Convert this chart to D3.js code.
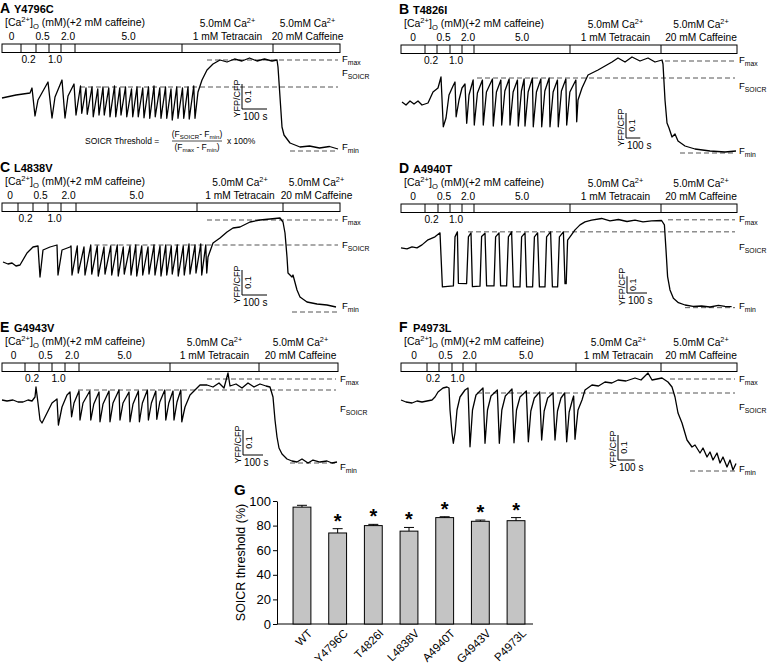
<!DOCTYPE html>
<html>
<head>
<meta charset="utf-8">
<script src="https://cdn.jsdelivr.net/npm/d3@7"></script>
<style>
  body { margin: 0; background: #fff; }
  svg text { font-family: "Liberation Sans", Arial, Helvetica, sans-serif; fill: #000; }
</style>
</head>
<body>
<svg id="fig"></svg>
<script>
// ---------- data ----------
// times in s, ratio values are YFP/CFP above F_min
const concLabels = ["0", "0.2", "0.5", "1.0", "2.0", "5.0"];
const scaleTime = 100, scaleRatio = 0.1;

// segment boundaries (s): 0,0.2,0.5,1.0,2.0,5.0 mM, tetracaine, caffeine, end
const segA = [0, 76, 136, 188, 236, 292, 720, 1084, 1352];
const segB = [0, 168, 252, 343, 427, 511, 1183, 1820, 2352];
const segC = [0, 64, 124, 184, 236, 296, 780, 1124, 1352];
const segD = [0, 120, 185, 245, 305, 365, 845, 1300, 1680];
const segE = [0, 115, 185, 250, 315, 385, 840, 1285, 1680];
const segF = [0, 156, 228, 306, 372, 450, 1050, 1560, 2016];

// [Fmax, FSOICR, Fmin] levels and the time each dashed line starts
const levelsA = [0.352, 0.244, -0.012], levelStartA = [820, 312, 1152];
const levelsB = [0.364, 0.296, -0.004], levelStartB = [1848, 532, 1953];
const levelsC = [0.348, 0.248, -0.020], levelStartC = [820, 370, 1160];
const levelsD = [0.522, 0.450, -0.004], levelStartD = [1335, 335, 1420];
const levelsE = [0.332, 0.288, -0.004], levelStartE = [1025, 380, 1440];
const levelsF = [0.368, 0.312, 0.000], levelStartF = [1614, 456, 1734];

const traceA = [[0,0.200],[56,0.212],[112,0.220],[120,0.240],[132,0.128],[144,0.192],[184,0.264],
  [200,0.120],[212,0.204],[240,0.272],[252,0.120],[264,0.208],[288,0.256],
  [296,0.132],[314,0.248],[319,0.139],[336,0.240],[341,0.135],[360,0.244],[365,0.125],[383,0.236],
  [388,0.132],[404,0.244],[409,0.132],[427,0.240],[432,0.125],[450,0.248],[455,0.125],[471,0.240],
  [476,0.132],[494,0.244],[499,0.125],[518,0.236],[523,0.125],[540,0.244],[545,0.125],[563,0.240],
  [568,0.121],[586,0.244],[591,0.119],[608,0.248],[613,0.125],[631,0.240],[636,0.119],[654,0.244],
  [659,0.119],[676,0.236],[681,0.112],[699,0.244],[704,0.119],[722,0.240],[727,0.119],[744,0.244],
  [749,0.116],[767,0.248],[772,0.119],
  [784,0.224],[800,0.272],[820,0.312],[844,0.336],[872,0.352],[900,0.344],[930,0.356],[960,0.348],
  [990,0.360],[1020,0.348],[1050,0.356],[1080,0.348],[1100,0.352],[1104,0.324],[1112,0.204],
  [1120,0.084],[1128,0.052],[1152,0.020],[1192,0.004],[1230,0.008],[1270,0],[1310,0.006],[1344,-0.004]];

const traceB = [[7,0.200],[35,0.188],[63,0.204],[91,0.192],[119,0.204],[147,0.188],[189,0.196],
  [224,0.240],[259,0.256],[280,0.300],
  [296,0.101],[315,0.136],[336,0.228],[364,0.264],[378,0.280],
  [386,0.141],[406,0.208],[427,0.256],[448,0.272],
  [460,0.115],[476,0.228],[505,0.288],
  [513,0.108],[535,0.236],[570,0.288],[576,0.108],[598,0.240],[640,0.292],
  [646,0.104],[668,0.240],[699,0.288],[705,0.108],[727,0.244],[757,0.292],
  [763,0.108],[785,0.240],[815,0.288],[821,0.104],[843,0.244],[862,0.292],
  [868,0.104],[890,0.240],[920,0.296],[926,0.101],[948,0.240],[979,0.292],
  [985,0.101],[1007,0.244],[1037,0.296],[1043,0.101],[1065,0.240],[1095,0.288],
  [1101,0.101],[1123,0.244],[1154,0.292],[1160,0.108],[1182,0.240],[1224,0.288],
  [1230,0.121],[1239,0.208],[1267,0.256],[1309,0.308],[1379,0.328],[1428,0.344],[1477,0.360],
  [1519,0.376],[1568,0.360],[1617,0.380],[1673,0.364],[1729,0.376],[1778,0.360],[1827,0.368],
  [1834,0.352],[1848,0.208],[1862,0.116],[1876,0.096],[1897,0.060],[1918,0.072],[1939,0.044],
  [1988,0.024],[2058,0.012],[2163,0.004],[2268,0],[2345,0.004]];

const traceC = [[4,0.180],[24,0.172],[40,0.176],[56,0.164],[72,0.168],[100,0.216],[124,0.240],[144,0.244],
  [152,0.120],[164,0.228],[192,0.240],[220,0.248],[224,0.128],[240,0.228],[272,0.240],[276,0.244],
  [280,0.128],[301,0.244],[305,0.136],[328,0.240],[332,0.128],[355,0.248],[359,0.132],[381,0.244],
  [385,0.124],[408,0.240],[412,0.132],[435,0.244],[439,0.128],[461,0.248],[465,0.124],[485,0.240],
  [489,0.132],[512,0.244],[516,0.128],[535,0.248],[539,0.124],[559,0.244],[563,0.128],[584,0.240],
  [588,0.132],[608,0.248],[612,0.128],[632,0.244],[636,0.124],[655,0.248],[659,0.128],[677,0.244],
  [681,0.132],[701,0.248],[705,0.124],[725,0.244],[729,0.128],[748,0.252],[752,0.132],[772,0.248],
  [776,0.136],[795,0.252],[799,0.128],[815,0.248],[819,0.136],
  [824,0.200],[844,0.256],[872,0.276],[900,0.300],[924,0.316],[952,0.320],[992,0.340],[1032,0.348],
  [1072,0.352],[1112,0.356],[1124,0.340],[1132,0.296],[1140,0.200],[1144,0.136],[1160,0.120],
  [1164,0.128],[1180,0.068],[1192,0.040],[1220,0.020],[1260,0.012],[1300,0.008],[1336,0]];

const traceD = [[0,0.354],[30,0.348],[55,0.360],[80,0.354],[105,0.372],[135,0.402],[170,0.420],[195,0.444],
  [207,0.120],[262,0.126],[270,0.420],[282,0.450],[287,0.142],[328,0.140],[337,0.420],[350,0.444],
  [357,0.122],[395,0.125],[403,0.422],[420,0.442],[428,0.126],[465,0.126],[473,0.420],[490,0.444],
  [498,0.126],[528,0.126],[537,0.420],[553,0.450],[562,0.120],[595,0.120],[603,0.420],[620,0.444],
  [628,0.120],[658,0.120],[667,0.420],[683,0.444],[692,0.120],[720,0.120],[728,0.420],[748,0.450],
  [757,0.120],[783,0.120],[792,0.420],[812,0.450],[820,0.140],[826,0.140],[833,0.400],
  [845,0.420],[870,0.462],[895,0.492],[920,0.510],[953,0.520],[1003,0.530],[1045,0.516],[1087,0.524],
  [1130,0.512],[1170,0.520],[1210,0.510],[1253,0.516],[1303,0.518],[1317,0.492],[1325,0.342],
  [1333,0.182],[1345,0.102],[1362,0.052],[1387,0.026],[1420,0.012],[1460,0.004],[1503,0.006],
  [1545,0],[1587,0.010],[1620,0.004],[1653,0.002]];

const traceE = [[0,0.248],[25,0.244],[55,0.248],[80,0.240],[105,0.240],[130,0.248],[150,0.244],[165,0.260],
  [170,0.300],[180,0.236],[190,0.168],[200,0.156],[225,0.196],[250,0.236],[275,0.252],
  [282,0.148],[300,0.220],[325,0.268],[340,0.280],[348,0.181],[360,0.236],[385,0.284],
  [390,0.168],[405,0.236],[439,0.284],[444,0.168],[459,0.232],[485,0.280],
  [490,0.161],[505,0.232],[535,0.284],[540,0.161],[555,0.236],[585,0.288],
  [590,0.168],[605,0.236],[635,0.280],[640,0.161],[655,0.232],[682,0.284],
  [687,0.161],[702,0.236],[727,0.288],[732,0.168],[747,0.236],[769,0.284],
  [774,0.171],[789,0.240],[814,0.288],[819,0.168],[834,0.236],[855,0.284],
  [860,0.168],[875,0.240],[894,0.288],[899,0.161],
  [915,0.220],[940,0.268],[965,0.288],[990,0.308],[1025,0.308],[1055,0.300],[1085,0.316],[1110,0.296],
  [1130,0.356],[1140,0.304],[1170,0.312],[1200,0.296],[1230,0.316],[1260,0.300],[1290,0.312],
  [1320,0.304],[1340,0.300],[1355,0.260],[1365,0.168],[1375,0.100],[1385,0.056],[1400,0.032],
  [1425,0.012],[1450,0.004],[1475,0],[1500,0.012],[1530,-0.004],[1555,0.008],[1590,0],[1625,0.004],
  [1650,-0.004],[1675,0]];

const traceF = [[0,0.284],[30,0.276],[66,0.272],[96,0.280],[126,0.276],[156,0.280],[186,0.284],[204,0.296],
  [222,0.316],[252,0.332],[276,0.336],[288,0.332],[294,0.244],[306,0.152],
  [314,0.111],[324,0.152],[336,0.244],[354,0.296],[384,0.324],[402,0.332],
  [414,0.097],[429,0.244],[450,0.304],[492,0.332],[504,0.111],[519,0.244],[540,0.300],[578,0.324],
  [590,0.111],[605,0.244],[626,0.300],[666,0.328],[678,0.113],[693,0.244],[714,0.296],[752,0.320],
  [764,0.117],[779,0.240],[800,0.292],[832,0.316],[844,0.124],[859,0.240],[880,0.292],[912,0.312],
  [924,0.124],[939,0.240],[960,0.292],[982,0.312],[994,0.117],[1009,0.236],[1030,0.288],[1036,0.300],
  [1044,0.127],[1062,0.244],[1086,0.284],[1104,0.324],[1146,0.344],[1185,0.340],[1224,0.356],
  [1265,0.352],[1302,0.364],[1350,0.360],[1404,0.372],[1440,0.364],[1482,0.392],[1506,0.364],
  [1566,0.372],[1602,0.356],[1626,0.336],[1644,0.296],[1662,0.232],[1686,0.192],[1716,0.124],
  [1746,0.096],[1764,0.104],[1794,0.072],[1812,0.092],[1836,0.056],[1854,0.076],[1872,0.044],
  [1896,0.072],[1914,0.032],[1932,0.056],[1956,0.016],[1974,0.044],[1992,0.004],[2010,0.030]];

// panel G
const gLabels = ["WT", "Y4796C", "T4826I", "L4838V", "A4940T", "G4943V", "P4973L"];
const gMeans = [95, 74, 80, 75.5, 86.5, 83.5, 84];
const gErr = [1.5, 3.5, 1, 3, 0.7, 1, 2.5];
const gStar = [false, true, true, true, true, true, true];
const gTicks = [0, 20, 40, 60, 80, 100];

// ---------- layout ----------
const W = 769, H = 668;
const svg = d3.select("#fig").attr("width", W).attr("height", H);

const panels = [
  { key: "A", name: "Y4796C", seg: segA, trace: traceA, lev: levelsA, levStart: levelStartA,
    x0: 2, x1: 340, barTop: 44, fminY: 148, px01: 25, sb: [242, 109], labY: [62, 76, 150], cafDx: 1, formula: true },
  { key: "B", name: "T4826I", seg: segB, trace: traceB, lev: levelsB, levStart: levelStartB,
    x0: 401, x1: 737, barTop: 45, fminY: 152, px01: 25, sb: [626, 138], labY: [63, 89, 154], cafDx: 2 },
  { key: "C", name: "L4838V", seg: segC, trace: traceC, lev: levelsC, levStart: levelStartC,
    x0: 2, x1: 340, barTop: 203, fminY: 307, px01: 25, sb: [242, 295], labY: [222, 248, 309], cafDx: 5 },
  { key: "D", name: "A4940T", seg: segD, trace: traceD, lev: levelsD, levStart: levelStartD,
    x0: 401, x1: 737, barTop: 204, fminY: 307, px01: 16.7, sb: [627, 293], labY: [222, 250, 309], cafDx: 2 },
  { key: "E", name: "G4943V", seg: segE, trace: traceE, lev: levelsE, levStart: levelStartE,
    x0: 2, x1: 338, barTop: 363, fminY: 462, px01: 25, sb: [243, 455], labY: [382, 412, 470], cafDx: 2 },
  { key: "F", name: "P4973L", seg: segF, trace: traceF, lev: levelsF, levStart: levelStartF,
    x0: 401, x1: 737, barTop: 363, fminY: 471, px01: 25, sb: [618, 460], labY: [382, 410, 472], cafDx: 2 }
];

// text with sub/superscript pieces: [[text, ""|"sub"|"sup"], ...]
function rich(sel, parts, size) {
  let shift = 0;
  parts.forEach(([txt, mode]) => {
    const target = mode === "sub" ? size * 0.28 : mode === "sup" ? -size * 0.4 : 0;
    sel.append("tspan")
      .attr("dy", target - shift)
      .style("font-size", (mode ? size * 0.72 : size) + "px")
      .text(txt);
    shift = target;
  });
  return sel;
}

class TracePanel {
  constructor(svg, cfg) {
    this.svg = svg;
    this.cfg = cfg;
  }

  initialize() {
    const c = this.cfg;
    this.x = d3.scaleLinear().domain([0, c.seg[c.seg.length - 1]]).range([c.x0, c.x1]);
    this.y = d3.scaleLinear().domain([0, 0.1]).range([c.fminY, c.fminY - c.px01]);
    this.g = this.svg.append("g").attr("class", "panel-" + c.key);
  }

  update() {
    const c = this.cfg, x = this.x, y = this.y, g = this.g;
    const barH = 8.5, fs = 10.2;

    // title
    g.append("text").attr("x", c.x0 - 2).attr("y", c.barTop - 31)
      .style("font-size", "14px").style("font-weight", "bold").text(c.key);
    g.append("text").attr("x", c.x0 + 12).attr("y", c.barTop - 31)
      .style("font-size", "11px").style("font-weight", "bold").text(c.name);

    // solution labels
    rich(g.append("text").attr("x", c.x0 + 3).attr("y", c.barTop - 18),
      [["[Ca", ""], ["2+", "sup"], ["]", ""], ["O", "sub"], [" (mM)(+2 mM caffeine)", ""]], 10.5);

    concLabels.forEach((lab, i) => {
      const cx = (x(c.seg[i]) + x(c.seg[i + 1])) / 2;
      const below = (i === 1 || i === 3);
      g.append("text").attr("x", cx).attr("y", below ? c.barTop + 19 : c.barTop - 4.5)
        .attr("text-anchor", "middle").style("font-size", fs + "px").text(lab);
    });

    const tetX = (x(c.seg[6]) + x(c.seg[7])) / 2;
    const cafX = (x(c.seg[7]) + x(c.seg[8])) / 2 + c.cafDx;
    [tetX, cafX].forEach(cx => {
      rich(g.append("text").attr("x", cx).attr("y", c.barTop - 17).attr("text-anchor", "middle"),
        [["5.0mM Ca", ""], ["2+", "sup"]], fs);
    });
    g.append("text").attr("x", tetX).attr("y", c.barTop - 4.5).attr("text-anchor", "middle")
      .style("font-size", fs + "px").text("1 mM Tetracain");
    g.append("text").attr("x", cafX).attr("y", c.barTop - 4.5).attr("text-anchor", "middle")
      .style("font-size", fs + "px").text("20 mM Caffeine");

    // solution bar
    g.append("rect").attr("x", x(0)).attr("y", c.barTop)
      .attr("width", x(c.seg[c.seg.length - 1]) - x(0)).attr("height", barH)
      .attr("fill", "white").attr("stroke", "black").attr("stroke-width", 1);
    g.selectAll("line.div").data(c.seg.slice(1, -1)).join("line")
      .attr("class", "div")
      .attr("x1", d => x(d)).attr("x2", d => x(d))
      .attr("y1", c.barTop).attr("y2", c.barTop + barH)
      .attr("stroke", "black").attr("stroke-width", 1);

    // dashed reference levels
    const tEnd = c.seg[c.seg.length - 1];
    g.selectAll("line.lev").data(c.lev).join("line")
      .attr("class", "lev")
      .attr("x1", (d, i) => x(c.levStart[i])).attr("x2", x(tEnd) - 2)
      .attr("y1", d => y(d)).attr("y2", d => y(d))
      .attr("stroke", "#555").attr("stroke-width", 1).attr("stroke-dasharray", "5,3");

    // level labels
    const lx = c.x1 + 2;
    rich(g.append("text").attr("x", lx).attr("y", c.labY[0]), [["F", ""], ["max", "sub"]], 9.5);
    rich(g.append("text").attr("x", lx).attr("y", c.labY[1]), [["F", ""], ["SOICR", "sub"]], 9.5);
    rich(g.append("text").attr("x", lx).attr("y", c.labY[2]), [["F", ""], ["min", "sub"]], 9.5);

    // trace
    const line = d3.line().x(d => x(d[0])).y(d => y(d[1]));
    g.append("path").datum(c.trace)
      .attr("d", line)
      .attr("fill", "none").attr("stroke", "black")
      .attr("stroke-width", 1.3).attr("stroke-linejoin", "round");

    // scale bar
    const [sx, sy] = c.sb;
    const vLen = y(0) - y(scaleRatio);
    const hLen = x(scaleTime) - x(0);
    g.append("path")
      .attr("d", `M${sx},${sy - vLen}V${sy}H${sx + hLen}`)
      .attr("fill", "none").attr("stroke", "black").attr("stroke-width", 1);
    g.append("text").attr("transform", `translate(${sx - 2},${sy - vLen / 2 + 2}) rotate(-90)`)
      .attr("text-anchor", "middle").style("font-size", "9px").text("YFP/CFP");
    g.append("text").attr("transform", `translate(${sx + 9},${sy - vLen / 2}) rotate(-90)`)
      .attr("text-anchor", "middle").style("font-size", "9px").text(scaleRatio);
    g.append("text").attr("x", sx + 1).attr("y", sy + 11)
      .style("font-size", "10px").text(scaleTime + " s");

    if (c.formula) {
      const f = g.append("g").style("fill", "#222");
      f.append("text").attr("x", 85).attr("y", 144).style("font-size", "8.5px").text("SOICR Threshold = ");
      rich(f.append("text").attr("x", 197).attr("y", 137).attr("text-anchor", "middle"),
        [["(F", ""], ["SOICR", "sub"], ["- F", ""], ["min", "sub"], [")", ""]], 8.5);
      f.append("line").attr("x1", 172).attr("x2", 222).attr("y1", 141).attr("y2", 141)
        .attr("stroke", "#222").attr("stroke-width", 0.8);
      rich(f.append("text").attr("x", 197).attr("y", 150).attr("text-anchor", "middle"),
        [["(F", ""], ["max", "sub"], [" - F", ""], ["min", "sub"], [")", ""]], 8.5);
      f.append("text").attr("x", 227).attr("y", 144).style("font-size", "8.5px").text("x 100%");
    }
  }
}

class ThresholdBars {
  constructor(svg) {
    this.svg = svg;
  }

  draw() {
    const g = this.svg.append("g").attr("class", "panel-G");
    const x = d3.scaleBand().domain(gLabels).range([277, 541]).paddingInner(0.5).paddingOuter(0.45);
    const y = d3.scaleLinear().domain([0, 100]).range([624, 501]);
    const rows = gLabels.map((k, i) => ({ k, m: gMeans[i], e: gErr[i], s: gStar[i] }));

    g.append("text").attr("x", 234).attr("y", 495)
      .style("font-size", "15px").style("font-weight", "bold").text("G");

    const ax = g.append("g").attr("transform", "translate(277,0)")
      .call(d3.axisLeft(y).tickValues(gTicks).tickSize(4).tickSizeOuter(0).tickPadding(2));
    ax.select(".domain").attr("stroke", "black");
    ax.selectAll("text").style("font-size", "13px").style("font-family", "Liberation Sans, Arial, sans-serif");

    g.append("line").attr("x1", 277).attr("x2", 533).attr("y1", y(0)).attr("y2", y(0))
      .attr("stroke", "black");

    g.append("text").attr("transform", `translate(245,${(y(0) + y(100)) / 2}) rotate(-90)`)
      .attr("text-anchor", "middle").style("font-size", "12.5px").text("SOICR threshold (%)");

    g.selectAll("rect.bar").data(rows).join("rect")
      .attr("class", "bar")
      .attr("x", d => x(d.k)).attr("width", x.bandwidth())
      .attr("y", d => y(d.m)).attr("height", d => y(0) - y(d.m))
      .attr("fill", "#c4c4c4").attr("stroke", "black").attr("stroke-width", 1);

    const cx = d => x(d.k) + x.bandwidth() / 2;
    g.selectAll("line.err").data(rows).join("line")
      .attr("class", "err")
      .attr("x1", cx).attr("x2", cx).attr("y1", d => y(d.m)).attr("y2", d => y(d.m + d.e))
      .attr("stroke", "black");
    g.selectAll("line.cap").data(rows).join("line")
      .attr("class", "cap")
      .attr("x1", d => cx(d) - 5).attr("x2", d => cx(d) + 5)
      .attr("y1", d => y(d.m + d.e)).attr("y2", d => y(d.m + d.e))
      .attr("stroke", "black");

    g.selectAll("text.star").data(rows.filter(d => d.s)).join("text")
      .attr("class", "star")
      .attr("x", cx).attr("y", d => y(d.m + d.e) - 1)
      .attr("text-anchor", "middle").style("font-size", "20px").style("font-weight", "bold").text("*");

    g.selectAll("text.xl").data(rows).join("text")
      .attr("class", "xl")
      .attr("transform", d => `translate(${cx(d) + 11},${y(0) + 10}) rotate(-45)`)
      .attr("text-anchor", "end").style("font-size", "11.5px").text(d => d.k);
  }
}

panels.forEach(cfg => {
  const p = new TracePanel(svg, cfg);
  p.initialize();
  p.update();
});
new ThresholdBars(svg).draw();
</script>
</body>
</html>
